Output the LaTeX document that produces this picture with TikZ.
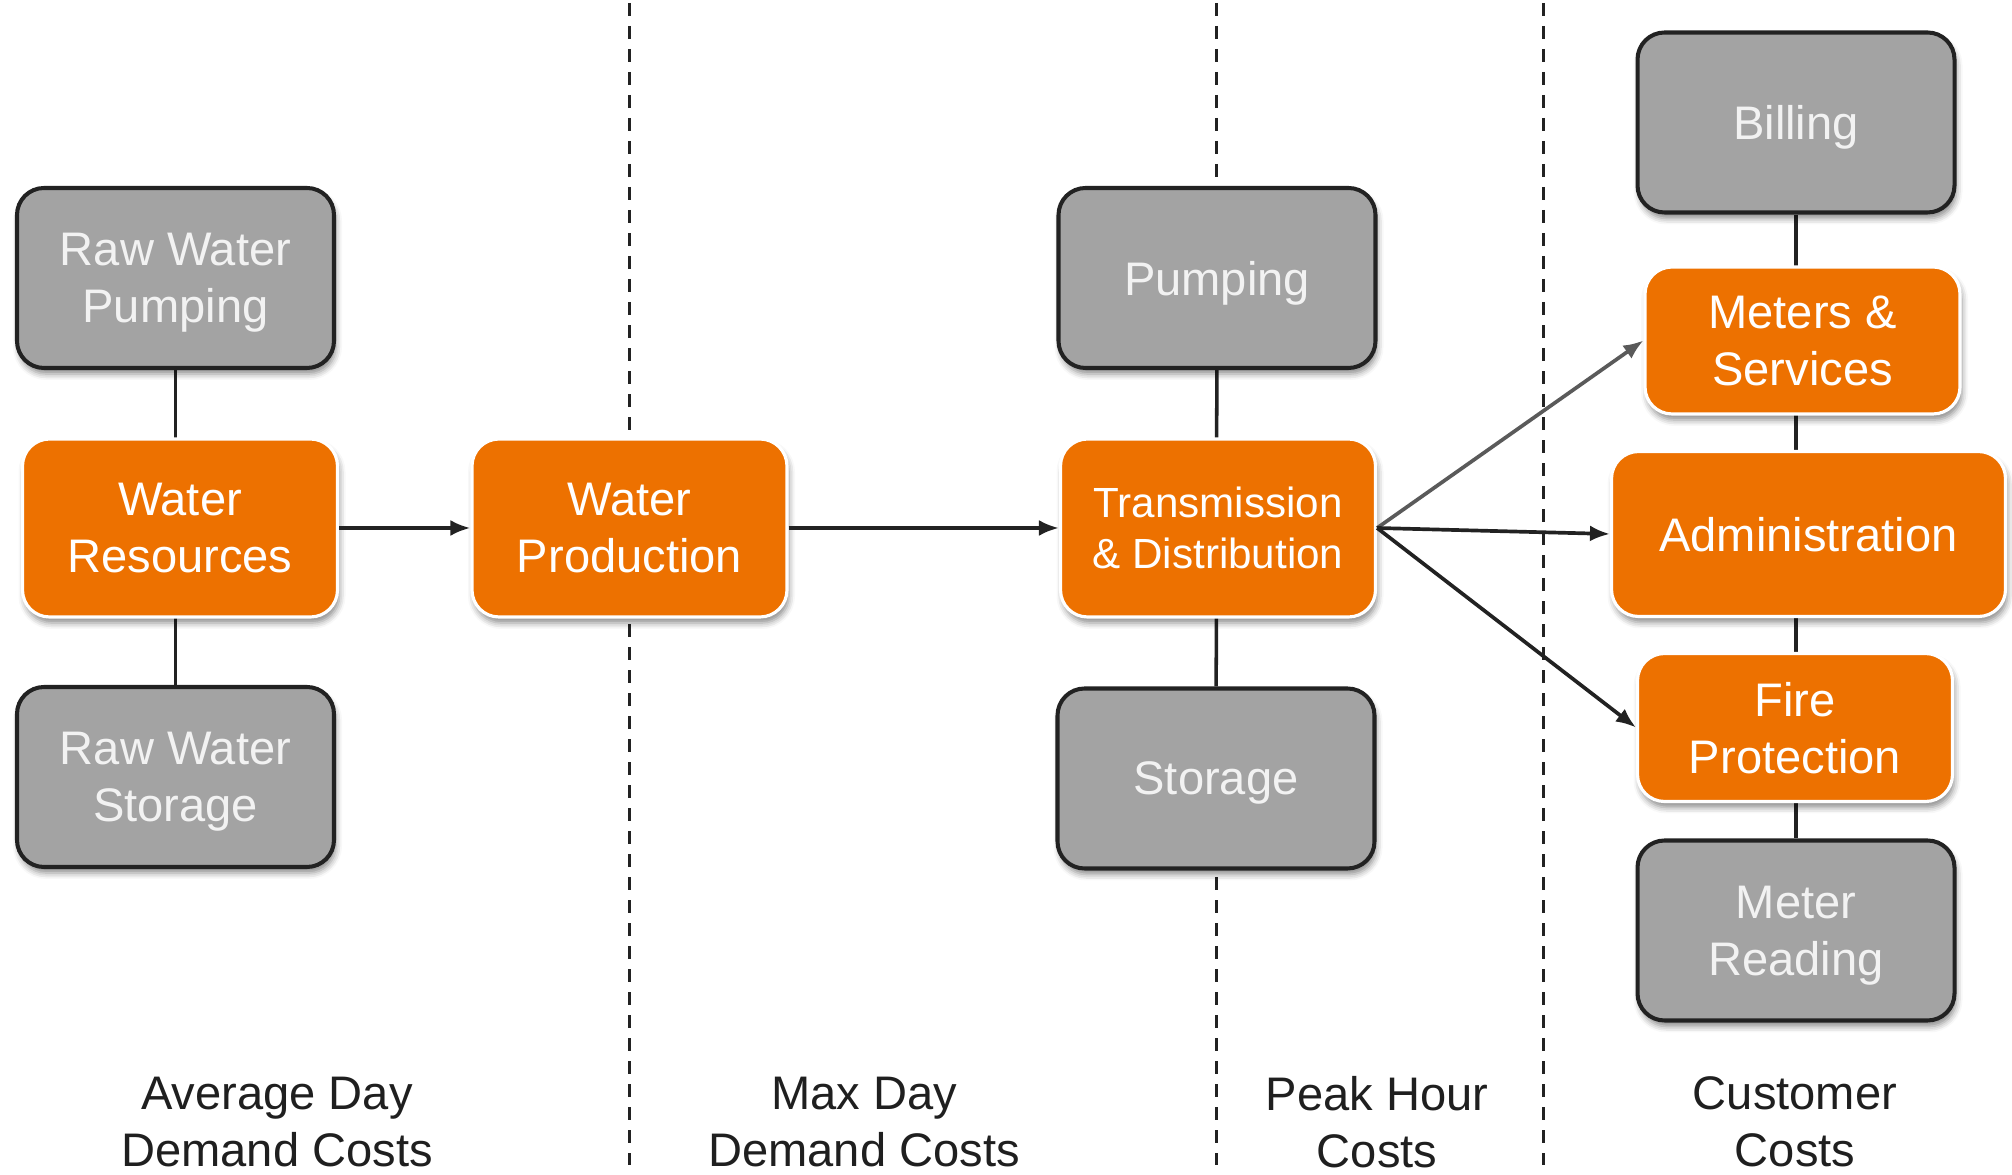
\documentclass[tikz,border=0pt]{standalone}
\usepackage{fontspec}
\setmainfont{Liberation Sans}
\usetikzlibrary{arrows.meta,positioning,backgrounds,shadows.blur}
\definecolor{boxorange}{RGB}{237,113,0}
\definecolor{boxgray}{RGB}{163,163,163}
\definecolor{boxline}{RGB}{34,34,34}
\definecolor{arrowgray}{RGB}{90,90,90}
\tikzset{
  cost/.style={rounded corners=0.27cm, align=center, inner sep=0pt, text depth=0pt,
    font=\fontsize{13.4}{16.2}\selectfont,
    blur shadow={shadow xshift=0.02cm, shadow yshift=-0.06cm, shadow blur radius=0.06cm, shadow opacity=45}},
  fixed/.style={cost, fill=boxgray, draw=boxline, line width=1.15pt, text=white!95!black,
    minimum width=3.17cm, minimum height=1.80cm},
  shared/.style={cost, fill=boxorange, draw=white, line width=0.9pt, text=white,
    minimum width=3.15cm, minimum height=1.78cm},
  link/.style={line width=1pt, draw=boxline},
  flow/.style={line width=1.05pt, draw=boxline, -{Latex[length=0.2cm,width=0.16cm]}},
  divider/.style={line width=0.85pt, draw=boxline, dash pattern=on 0.13cm off 0.10cm},
  band/.style={align=center, inner sep=0pt, text=black!88, font=\fontsize{13.4}{16.2}\selectfont}
}

\begin{document}
\begin{tikzpicture}
  \useasboundingbox (0,0) rectangle (20.12,11.75);
  \node[fixed] (rwp) at (1.755,8.97) {Raw Water\\Pumping};
  \node[shared] (wres) at (1.80,6.47) {Water\\Resources};
  \node[fixed] (rws) at (1.755,3.98) {Raw Water\\Storage};
  \node[shared] (wprod) at (6.295,6.47) {Water\\Production};
  \node[fixed] (pump) at (12.17,8.97) {Pumping};
  \node[shared, font=\fontsize{12}{14.5}\selectfont] (td) at (12.18,6.47) {Transmission\\\& Distribution};
  \node[fixed] (stor) at (12.16,3.965) {Storage};
  \node[fixed] (bill) at (17.96,10.525) {Billing};
  \node[shared, minimum height=1.47cm] (meters) at (18.025,8.345) {Meters \&\\Services};
  \node[shared, minimum width=3.94cm, minimum height=1.65cm] (admin) at (18.085,6.41) {Administration};
  \node[shared, minimum height=1.48cm] (fire) at (17.95,4.475) {Fire\\Protection};
  \node[fixed] (mread) at (17.96,2.445) {Meter\\Reading};

  \node[band, anchor=north] (avg) at (2.77,0.99) {Average Day\\Demand Costs};
  \node[band, anchor=north] (maxd) at (8.64,0.99) {Max Day\\Demand Costs};
  \node[band, anchor=north] (peak) at (13.77,0.99) {Peak Hour\\Costs};
  \node[band, anchor=north] (cust) at (17.95,0.99) {Customer\\Costs};

  \begin{pgfonlayer}{background}
    \foreach \x in {6.29,12.16,15.43}
      \draw[divider] (\x,11.72) -- (\x,0.10);
    \draw[link] (rwp) -- (rws);
    \draw[link] (pump) -- (stor);
    \draw[link] (bill) -- (mread);
  \end{pgfonlayer}

  \draw[flow] (wres) -- (wprod);
  \draw[flow] (wprod) -- (td);
  \draw[flow, draw=arrowgray] (td.east) -- (meters.west);
  \draw[flow] (td.east) -- (admin.west);
  \draw[flow] (td.east) -- (fire.west);
\end{tikzpicture}
\end{document}
